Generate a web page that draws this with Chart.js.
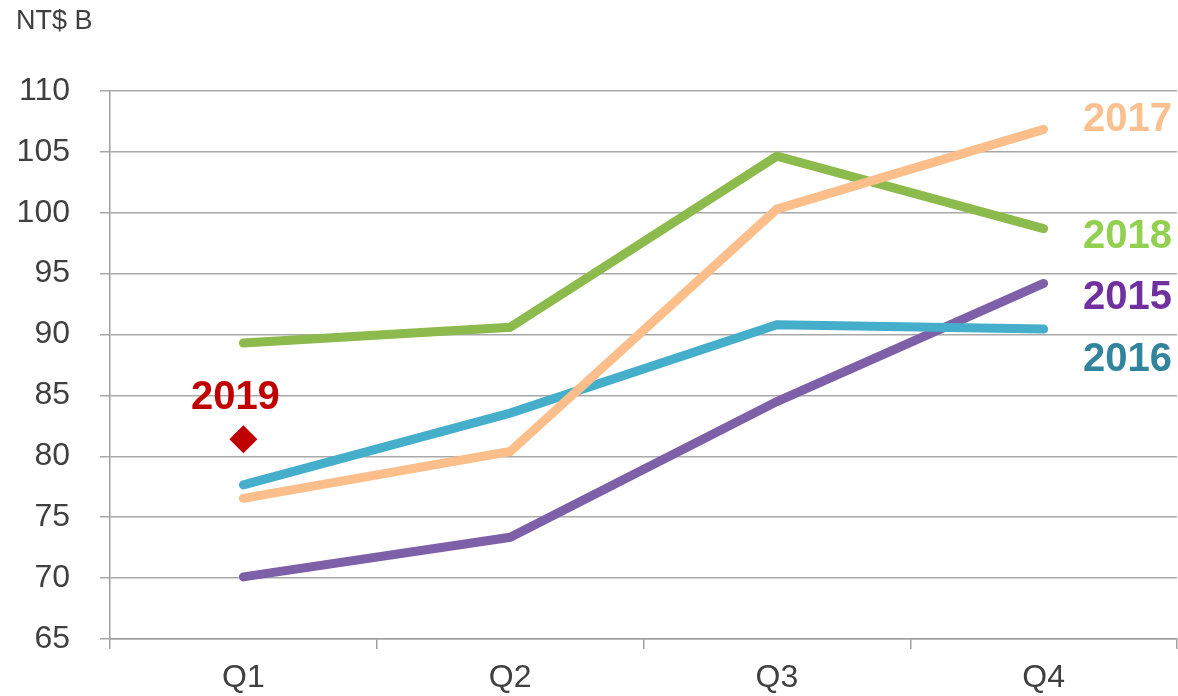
<!DOCTYPE html>
<html>
<head>
<meta charset="utf-8">
<script src="https://cdn.jsdelivr.net/npm/chart.js@4.4.1/dist/chart.umd.min.js"></script>
<style>
  html, body { margin: 0; padding: 0; background: #fff; overflow: hidden; }
  #wrap { width: 1178px; height: 696px; }
  canvas { display: block; }
</style>
</head>
<body>
<div id="wrap"><canvas id="revenueChart" width="1178" height="696"></canvas></div>
<script>
const quarters = ['Q1', 'Q2', 'Q3', 'Q4'];

const rev2015 = [70.1, 73.35, 84.5, 94.2];
const rev2016 = [77.65, 83.55, 90.8, 90.45];
const rev2017 = [76.55, 80.4, 100.3, 106.85];
const rev2018 = [89.3, 90.6, 104.65, 98.7];
const rev2019 = [81.4, null, null, null];

const yearLabels = ['2017', '2018', '2015', '2016'];
const yearLabelValues = [107.6, 98.0, 93.0, 87.9];
const yearLabelColors = ['#FAC090', '#92D050', '#7030A0', '#31849B'];

const FONT = '"Liberation Sans", Arial, sans-serif';

// draws the unit text and the year names next to the lines
const annotatePlugin = {
    id: 'annotate',
    afterDatasetsDraw(chart) {
        const ctx = chart.ctx;
        const area = chart.chartArea;
        const yScale = chart.scales.y;
        const xScale = chart.scales.x;

        ctx.save();
        ctx.fillStyle = '#404040';
        ctx.font = '27px ' + FONT;
        ctx.textAlign = 'left';
        ctx.textBaseline = 'middle';
        ctx.fillText('NT$ B', 16, 22);

        ctx.font = 'bold 40px ' + FONT;
        ctx.textAlign = 'right';
        yearLabels.forEach((label, i) => {
            ctx.fillStyle = yearLabelColors[i];
            ctx.fillText(label, area.right - 5, yScale.getPixelForValue(yearLabelValues[i]));
        });

        ctx.textAlign = 'center';
        ctx.fillStyle = '#C00000';
        ctx.fillText('2019', xScale.getPixelForValue(0) - 8, yScale.getPixelForValue(84.8));
        ctx.restore();
    }
};

function lineSet(label, data, color) {
    return {
        label: label,
        data: data,
        borderColor: color,
        backgroundColor: color,
        borderWidth: 9,
        borderCapStyle: 'round',
        pointRadius: 0,
        fill: false,
        tension: 0
    };
}

const datasets = [
    {
        label: '2019',
        data: rev2019,
        showLine: false,
        pointStyle: 'rectRot',
        pointRadius: 14,
        pointBackgroundColor: '#C00000',
        pointBorderColor: '#C00000',
        pointBorderWidth: 0
    },
    lineSet('2017', rev2017, '#FCBE8A'),
    lineSet('2018', rev2018, '#8DBA4C'),
    lineSet('2016', rev2016, '#45AECB'),
    lineSet('2015', rev2015, '#7E60A8')
];

const ctx = document.getElementById('revenueChart').getContext('2d');
new Chart(ctx, {
    type: 'line',
    data: { labels: quarters, datasets: datasets },
    options: {
        responsive: false,
        animation: false,
        layout: { autoPadding: false, padding: { top: 91, right: 1, bottom: 0, left: 0 } },
        plugins: {
            legend: { display: false },
            tooltip: { enabled: false }
        },
        scales: {
            x: {
                offset: true,
                afterFit(scale) {
                    scale.height = 57;
                    scale.paddingLeft = 0;
                    scale.paddingRight = 0;
                },
                grid: {
                    offset: true,
                    drawOnChartArea: false,
                    drawTicks: true,
                    tickLength: 10,
                    color: '#A0A0A0',
                    lineWidth: 1.5
                },
                border: { display: true, color: '#A0A0A0', width: 1.5 },
                ticks: {
                    color: '#404040',
                    font: { family: FONT, size: 32 },
                    padding: 10
                }
            },
            y: {
                min: 65,
                max: 110,
                afterFit(scale) { scale.width = 110; },
                grid: {
                    drawTicks: true,
                    tickLength: 10,
                    color: '#A8A8A8',
                    lineWidth: 1.5
                },
                border: { display: true, color: '#A0A0A0', width: 1.5 },
                ticks: {
                    stepSize: 5,
                    color: '#404040',
                    font: { family: FONT, size: 32 },
                    padding: 30
                }
            }
        }
    },
    plugins: [annotatePlugin]
});
</script>
</body>
</html>
